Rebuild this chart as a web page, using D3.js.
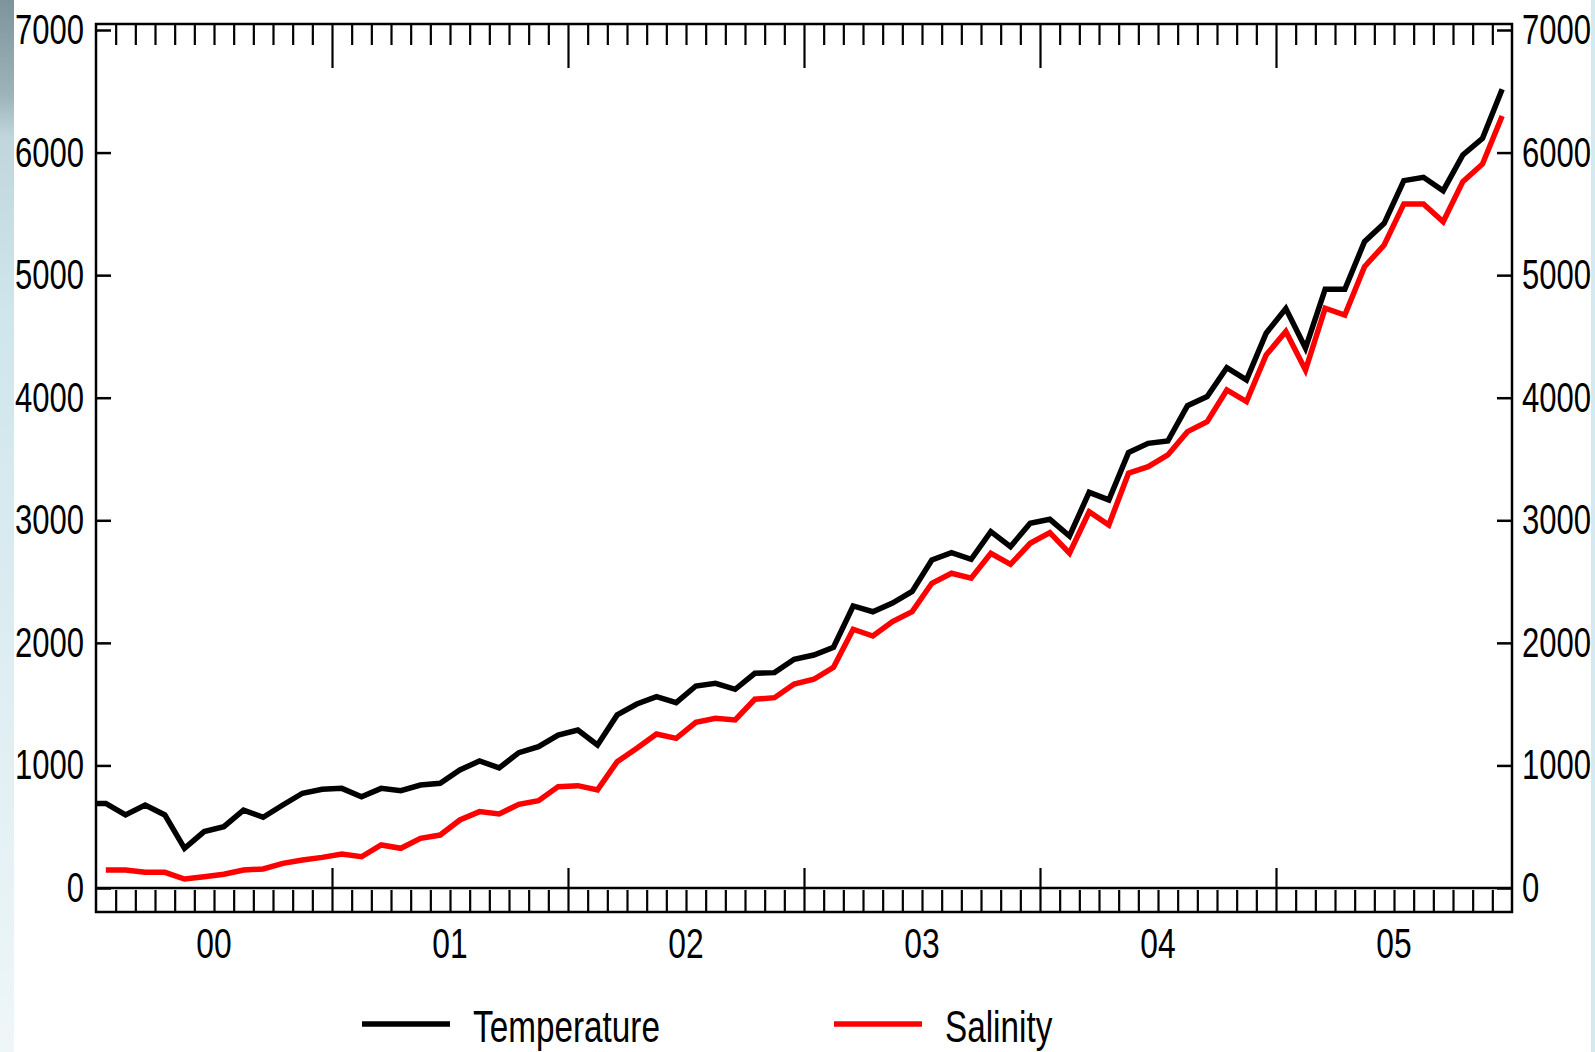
<!DOCTYPE html>
<meta charset="utf-8">
<script src="https://d3js.org/d3.v7.min.js"></script>
<style>
    body { margin: 0; background: #fff; }
    svg text { font-family: "Liberation Sans", Arial, sans-serif; fill: #000; }
</style>
<body>
<div id="chart"></div>
<script>
// monthly values, Jan 2000 .. Dec 2005
// temperature also carries Dec 1999 as its first value (cut off by the frame)
var temperature = [690, 690, 596, 677, 596, 324, 460, 500, 636, 577, 677, 773, 805,
    813, 745, 813, 794, 840, 854, 963, 1036, 980, 1104, 1153, 1248,
    1289, 1167, 1412, 1501, 1561, 1512, 1648, 1670, 1621, 1752, 1757, 1866,
    1901, 1964, 2301, 2254, 2325, 2420, 2676, 2736, 2682, 2907, 2785, 2976,
    3008, 2872, 3228, 3166, 3552, 3628, 3647, 3935, 4009, 4245, 4145, 4526,
    4727, 4405, 4885, 4885, 5273, 5423, 5771, 5798, 5689, 5981, 6117, 6516]
var salinity = [147, 147, 128, 128, 73, 92, 112, 147, 155, 201, 228, 250,
    277, 255, 351, 324, 405, 432, 555, 623, 604, 683, 712, 827,
    835, 800, 1031, 1140, 1256, 1221, 1352, 1385, 1371, 1540, 1553, 1664,
    1703, 1801, 2111, 2056, 2173, 2255, 2486, 2568, 2527, 2731, 2641, 2812,
    2899, 2731, 3070, 2962, 3384, 3437, 3533, 3723, 3805, 4063, 3968, 4349,
    4540, 4226, 4730, 4675, 5069, 5246, 5581, 5581, 5436, 5763, 5907, 6299]
var yearLabels = ["00", "01", "02", "03", "04", "05"]
var yTicks = [0, 1000, 2000, 3000, 4000, 5000, 6000, 7000]
var legendItems = [
    { name: "Temperature", color: "#000000" },
    { name: "Salinity", color: "#ff0000" }
]

var width = 1595, height = 1052
var narrow = 0.74   // labels in the original are a condensed face

var svg = d3.select("#chart").append("svg")
    .attr("width", width)
    .attr("height", height)

var nMonths = yearLabels.length * 12
var x = d3.scaleLinear().domain([0, nMonths]).range([96, 1512])
var y = d3.scaleLinear().domain([0, 7000]).range([888, 30])
var frameTop = 24, frameBottom = 912

// squeeze a text horizontally around its own anchor
function condense(sel) {
    sel.each(function () {
        var t = d3.select(this)
        var tx = +t.attr("x") || 0
        t.attr("x", tx / narrow).attr("transform", "scale(" + narrow + ",1)")
    })
}

svg.append("defs").append("clipPath").attr("id", "plotclip")
    .append("rect")
    .attr("x", x(0)).attr("y", frameTop)
    .attr("width", x(nMonths) - x(0)).attr("height", y(0) - frameTop)

// left and right y axes
var fmt = d3.format("d")
var axL = svg.append("g")
    .attr("transform", "translate(" + x(0) + ",0)")
    .call(d3.axisLeft(y).tickValues(yTicks).tickFormat(fmt).tickSize(-15).tickPadding(12))
var axR = svg.append("g")
    .attr("transform", "translate(" + x(nMonths) + ",0)")
    .call(d3.axisRight(y).tickValues(yTicks).tickFormat(fmt).tickSize(-15).tickPadding(10))
;[axL, axR].forEach(function (g) {
    g.select(".domain").remove()
    g.selectAll("line").attr("stroke", "#000").attr("stroke-width", 2.5)
    g.selectAll("text").attr("font-size", 42).attr("fill", "#000").call(condense)
})

// month ticks (top and bottom), year ticks longer
var minor = d3.range(1, nMonths).filter(function (m) { return m % 12 != 0 })
var major = d3.range(12, nMonths, 12)

function monthTicks(axisFn, ty, vals, len) {
    var g = svg.append("g")
        .attr("transform", "translate(0," + ty + ")")
        .call(axisFn(x).tickValues(vals).tickSize(len).tickFormat(""))
    g.select(".domain").remove()
    g.selectAll("line").attr("stroke", "#000").attr("stroke-width", 2.2)
    return g
}
monthTicks(d3.axisTop, frameTop, minor, -21)
monthTicks(d3.axisTop, frameTop, major, -44)
monthTicks(d3.axisBottom, frameBottom, minor, -22)
monthTicks(d3.axisBottom, frameBottom, major, -44)

// year labels in the middle of each year
svg.append("g").selectAll("text")
    .data(yearLabels)
    .enter()
    .append("text")
    .attr("x", function (d, i) { return x(i * 12 + 6) })
    .attr("y", 958)
    .attr("text-anchor", "middle")
    .attr("font-size", 43)
    .text(function (d) { return d })
    .call(condense)

// frame and zero line
svg.append("rect")
    .attr("x", x(0)).attr("y", frameTop)
    .attr("width", x(nMonths) - x(0)).attr("height", frameBottom - frameTop)
    .attr("fill", "none").attr("stroke", "#000").attr("stroke-width", 2.5)
svg.append("line")
    .attr("x1", x(0)).attr("x2", x(nMonths))
    .attr("y1", y(0)).attr("y2", y(0))
    .attr("stroke", "#000").attr("stroke-width", 2.5)

// the two series, points at mid-month
var line = d3.line()
    .x(function (d) { return x(d.t) })
    .y(function (d) { return y(d.v) })
var tempPts = temperature.map(function (v, i) { return { t: i - 0.5, v: v } })
var salPts = salinity.map(function (v, i) { return { t: i + 0.5, v: v } })

var plot = svg.append("g").attr("clip-path", "url(#plotclip)")
plot.append("path").datum(salPts)
    .attr("d", line)
    .attr("fill", "none").attr("stroke", legendItems[1].color)
    .attr("stroke-width", 5.5).attr("stroke-linejoin", "miter")
plot.append("path").datum(tempPts)
    .attr("d", line)
    .attr("fill", "none").attr("stroke", legendItems[0].color)
    .attr("stroke-width", 5.5).attr("stroke-linejoin", "miter")

// legend
var lx = [362, 834]
var leg = svg.append("g").selectAll("g")
    .data(legendItems)
    .enter()
    .append("g")
    .attr("transform", function (d, i) { return "translate(" + lx[i] + ",1024)" })
leg.append("line")
    .attr("x1", 0).attr("x2", 88)
    .attr("stroke", function (d) { return d.color })
    .attr("stroke-width", 5.5)
leg.append("text")
    .attr("x", 111).attr("y", 18)
    .attr("font-size", 45)
    .text(function (d) { return d.name })
    .call(condense)

// slide background showing at the edges
var grad = svg.select("defs").append("linearGradient")
    .attr("id", "edge").attr("x1", 0).attr("x2", 0).attr("y1", 0).attr("y2", 1)
grad.append("stop").attr("offset", 0).attr("stop-color", "#7e949c")
grad.append("stop").attr("offset", 0.09).attr("stop-color", "#9cb3ba")
grad.append("stop").attr("offset", 0.13).attr("stop-color", "#c0d6dc")
grad.append("stop").attr("offset", 0.3).attr("stop-color", "#cfe6ec")
grad.append("stop").attr("offset", 1).attr("stop-color", "#eef6f8")
svg.append("rect").attr("x", 0).attr("y", 0).attr("width", 14).attr("height", height)
    .attr("fill", "url(#edge)")
svg.append("rect").attr("x", 1591).attr("y", 0).attr("width", 4).attr("height", height)
    .attr("fill", "#d3eaf0")
</script>
</body>
